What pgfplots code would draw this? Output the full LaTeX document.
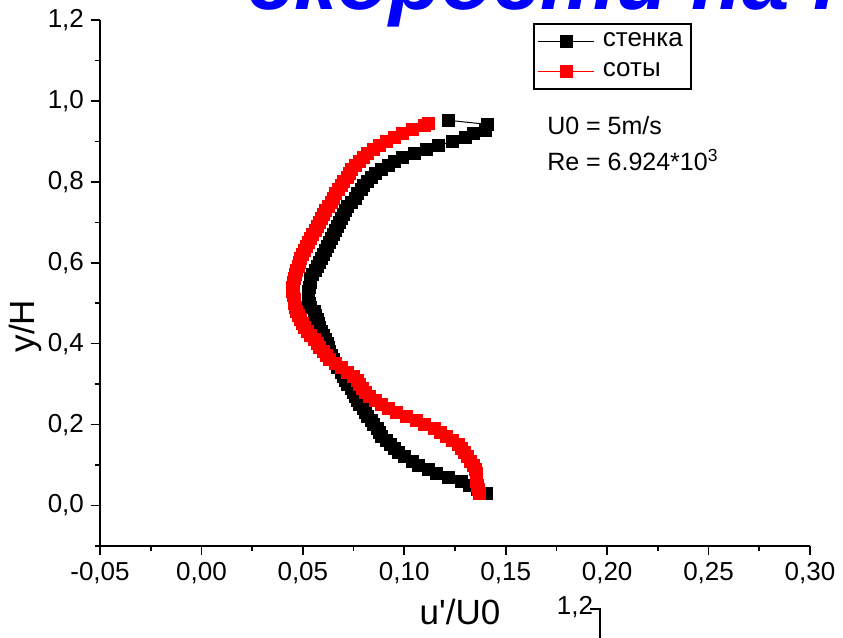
\documentclass[border=0pt]{standalone}
\usepackage{fontspec}
\setmainfont{Liberation Sans}
\usepackage{pgfplots}
\usepackage{pgfplotstable}
\pgfplotsset{compat=1.18}

\pgfplotstableread{
x y
0.1405 0.03
0.136 0.04
0.132 0.05
0.128 0.06
0.122 0.07
0.116 0.08
0.112 0.09
0.107 0.10
0.104 0.11
0.100 0.12
0.097 0.13
0.095 0.14
0.093 0.15
0.091 0.16
0.089 0.17
0.088 0.18
0.087 0.19
0.085 0.20
0.084 0.21
0.082 0.22
0.081 0.23
0.080 0.24
0.078 0.25
0.077 0.26
0.076 0.27
0.075 0.28
0.074 0.29
0.072 0.30
0.071 0.31
0.070 0.32
0.069 0.33
0.067 0.34
0.066 0.35
0.065 0.36
0.064 0.37
0.063 0.38
0.0625 0.39
0.062 0.40
0.061 0.41
0.060 0.42
0.059 0.43
0.058 0.44
0.0575 0.45
0.057 0.46
0.056 0.47
0.0555 0.48
0.054 0.49
0.0535 0.50
0.053 0.51
0.053 0.52
0.053 0.53
0.0535 0.54
0.054 0.55
0.054 0.56
0.055 0.57
0.056 0.58
0.057 0.59
0.058 0.60
0.059 0.61
0.060 0.62
0.061 0.63
0.062 0.64
0.063 0.65
0.064 0.66
0.065 0.67
0.066 0.68
0.067 0.69
0.068 0.70
0.069 0.71
0.070 0.72
0.071 0.73
0.072 0.74
0.074 0.75
0.076 0.76
0.077 0.77
0.079 0.78
0.080 0.79
0.082 0.80
0.084 0.81
0.086 0.82
0.089 0.83
0.092 0.84
0.095 0.85
0.099 0.86
0.105 0.87
0.111 0.88
0.117 0.89
0.124 0.90
0.130 0.91
0.134 0.92
0.140 0.928
0.141 0.942
0.122 0.952
}\stenka

\pgfplotstableread{
x y
0.137 0.03
0.1365 0.04
0.136 0.05
0.1358 0.06
0.1356 0.07
0.1355 0.08
0.135 0.09
0.134 0.10
0.1325 0.11
0.131 0.12
0.1295 0.13
0.128 0.14
0.1265 0.15
0.124 0.16
0.121 0.17
0.118 0.18
0.115 0.19
0.110 0.20
0.106 0.21
0.101 0.22
0.096 0.23
0.092 0.24
0.089 0.25
0.086 0.26
0.083 0.27
0.081 0.28
0.0795 0.29
0.078 0.30
0.077 0.31
0.075 0.32
0.072 0.33
0.069 0.34
0.066 0.35
0.063 0.36
0.0615 0.37
0.060 0.38
0.058 0.39
0.057 0.40
0.0555 0.41
0.054 0.42
0.0525 0.43
0.051 0.44
0.050 0.45
0.049 0.46
0.048 0.47
0.047 0.48
0.0465 0.49
0.046 0.50
0.0458 0.51
0.0452 0.52
0.045 0.53
0.045 0.54
0.0455 0.55
0.046 0.56
0.0465 0.57
0.047 0.58
0.048 0.59
0.0485 0.60
0.049 0.61
0.050 0.62
0.051 0.63
0.052 0.64
0.053 0.65
0.054 0.66
0.055 0.67
0.056 0.68
0.057 0.69
0.058 0.70
0.059 0.71
0.060 0.72
0.061 0.73
0.0625 0.74
0.064 0.75
0.065 0.76
0.066 0.77
0.0675 0.78
0.069 0.79
0.070 0.80
0.072 0.81
0.073 0.82
0.074 0.83
0.076 0.84
0.078 0.85
0.080 0.86
0.082 0.87
0.085 0.88
0.088 0.89
0.091 0.90
0.095 0.91
0.099 0.92
0.104 0.93
0.110 0.94
0.112 0.945
}\soty

\begin{document}
\begin{tikzpicture}
\begin{axis}[
  at={(50pt,46pt)}, anchor=south west,
  scale only axis, width=355pt, height=263pt,
  xmin=-0.05, xmax=0.30, ymin=-0.1, ymax=1.2,
  axis x line=bottom, axis y line=left,
  axis line style={-, line width=0.9pt, black},
  xtick={-0.05,0,0.05,0.1,0.15,0.2,0.25,0.3},
  ytick={0,0.2,0.4,0.6,0.8,1.0,1.2},
  minor xtick={-0.025,0.025,0.075,0.125,0.175,0.225,0.275},
  minor ytick={-0.1,0.1,0.3,0.5,0.7,0.9,1.1},
  tick align=outside,
  major tick length=4.5pt, minor tick length=2.5pt,
  every tick/.style={black, line width=0.8pt},
  x tick label style={/pgf/number format/.cd, fixed, fixed zerofill, precision=2, use comma, assume math mode=true},
  y tick label style={/pgf/number format/.cd, fixed, fixed zerofill, precision=1, use comma, assume math mode=true},
  tick label style={font=\fontsize{13}{15}\selectfont},
  xlabel={u\textquotesingle/U0},
  ylabel={y/H},
  xlabel style={at={(axis description cs:0.507,0)}, anchor=center, yshift=-33pt, font=\fontsize{17.5}{19}\selectfont},
  ylabel style={at={(axis description cs:-0.1056,0.418)}, anchor=center, font=\fontsize{17.5}{19}\selectfont},
  legend style={at={(axis description cs:0.61,0.994)}, anchor=north west, draw=black, line width=0.8pt,
    font=\fontsize{13}{15}\selectfont, inner xsep=2pt, inner ysep=2.5pt, row sep=2.5pt, column sep=2pt},
  legend cell align=left,
  legend image code/.code={\draw[mark repeat=2, mark phase=2, line width=0.5pt, #1] plot coordinates {(0pt,0pt) (14pt,0pt) (28pt,0pt)};},
  clip=false,
]
\addplot[black, line width=0.5pt, mark=square*, mark size=3pt, mark options={draw=black, fill=black}] table[x=x, y=y] {\stenka};
\addlegendentry{стенка\hspace{8pt}}
\addplot[red, line width=0.5pt, mark=square*, mark size=3pt, mark options={draw=red, fill=red}] table[x=x, y=y] {\soty};
\addlegendentry{соты}
\node[anchor=west, font=\fontsize{12.5}{14}\selectfont] at (axis cs:0.167,0.94) {U0 = 5m/s};
\node[anchor=west, font=\fontsize{12.5}{14}\selectfont] at (axis cs:0.167,0.854) {Re = 6.924*10\textsuperscript{3}};
\end{axis}
\node[anchor=base west, text=blue, font=\fontsize{42.5}{44}\selectfont\bfseries\itshape] at (120pt,314pt) {скорости на п};
\node[font=\fontsize{13}{15}\selectfont] at (287.5pt,15.5pt) {1,2};
\draw[line width=0.8pt] (295pt,14.5pt) -- (300pt,14.5pt) -- (300pt,-2pt);
\pgfresetboundingbox
\path[use as bounding box] (0,0) rectangle (421.5pt,319pt);
\end{tikzpicture}
\end{document}
